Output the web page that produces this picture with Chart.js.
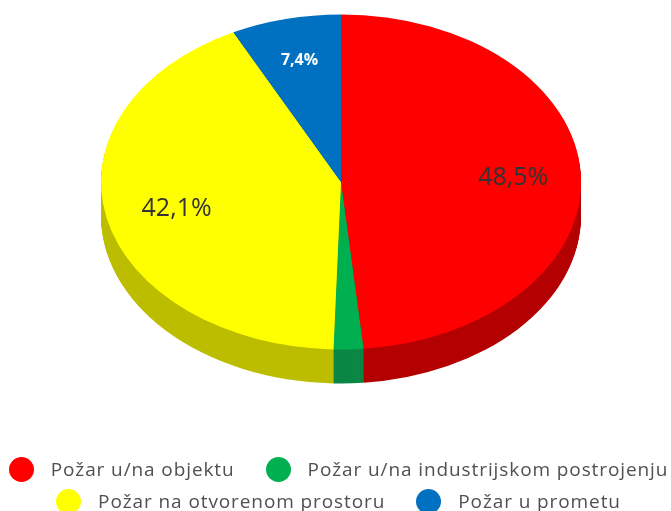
<!DOCTYPE html>
<html lang="hr">
<head>
  <meta charset="UTF-8">
  <title>Požari</title>
  <script src="https://cdn.jsdelivr.net/npm/chart.js@4"></script>
  <style>
    body { margin: 0; background: #fff; }
    #wrap { position: relative; width: 671px; height: 511px; overflow: hidden; }
    #legend { position: absolute; left: 3px; top: 457px; width: 671px; display: flex; flex-wrap: wrap; justify-content: center;
      font: 19px "Open Sans", sans-serif; letter-spacing: 0.9px; color: #505050; row-gap: 7px; }
    .item { display: flex; align-items: center; height: 25px; white-space: nowrap; }
    .item:nth-child(odd) { margin-right: 31px; }
    .item span:last-child { position: relative; top: -1px; }
    .dot { width: 25px; height: 25px; border-radius: 50%; margin-right: 17px; }
  </style>
</head>
<body>
<div id="wrap">
  <canvas id="pieChart"></canvas>
  <div id="legend"></div>
</div>

<script>
  const categories = ['Požar u/na objektu', 'Požar u/na industrijskom postrojenju', 'Požar na otvorenom prostoru', 'Požar u prometu'];
  const values = [48.5, 2.0, 42.1, 7.4];
  const valueLabels = ['48,5%', '', '42,1%', '7,4%'];
  const colors = ['#ff0000', '#00b050', '#ffff00', '#0070c0'];
  const sideColors = ['#b40000', '#0a8744', '#bdbd00', '#00508c'];

  const tilt = 167.5 / 240;  // top face is a squashed circle
  const depth = 34;

  // squash the pie and draw the side wall under it
  const tiltPlugin = {
    id: 'tilt',
    beforeDatasetsDraw(chart) {
      const ctx = chart.ctx;
      const arcs = chart.getDatasetMeta(0).data;
      const cy = arcs[0].y;
      for (let d = depth; d > 0; d--) {
        arcs.forEach((arc, i) => {
          ctx.save();
          ctx.translate(0, cy + d);
          ctx.scale(1, tilt);
          ctx.beginPath();
          ctx.moveTo(arc.x, 0);
          ctx.arc(arc.x, 0, arc.outerRadius, arc.startAngle, arc.endAngle);
          ctx.closePath();
          ctx.fillStyle = sideColors[i];
          ctx.fill();
          ctx.restore();
        });
      }
      ctx.save();
      ctx.translate(0, cy);
      ctx.scale(1, tilt);
      ctx.translate(0, -cy);
    },
    afterDatasetsDraw(chart) {
      chart.ctx.restore();
      const ctx = chart.ctx;
      ctx.textAlign = 'center';
      ctx.textBaseline = 'middle';
      chart.getDatasetMeta(0).data.forEach((arc, i) => {
        if (!valueLabels[i]) return;
        const small = values[i] < 10;
        const mid = (arc.startAngle + arc.endAngle) / 2;
        const r = arc.outerRadius * (small ? 0.75 : 0.71);
        ctx.font = small ? 'bold 16px "Open Sans"' : '25px "Open Sans"';
        ctx.fillStyle = small ? '#ffffff' : '#333333';
        const nudge = small ? 0 : 2;
        ctx.fillText(valueLabels[i], arc.x + Math.cos(mid) * r + nudge, arc.y + Math.sin(mid) * r * tilt + 1);
      });
    }
  };

  new Chart(document.getElementById('pieChart'), {
    type: 'pie',
    data: {
      labels: categories,
      datasets: [{
        data: values,
        backgroundColor: colors,
        borderWidth: 0,
        radius: 240,
        clip: false
      }]
    },
    options: {
      responsive: true,
      maintainAspectRatio: false,
      animation: false,
      layout: { padding: { left: 11, bottom: 147 } },
      plugins: { legend: { display: false }, tooltip: { enabled: false } }
    },
    plugins: [tiltPlugin]
  });

  const legend = document.getElementById('legend');
  categories.forEach((name, i) => {
    const item = document.createElement('div');
    item.className = 'item';
    const dot = document.createElement('span');
    dot.className = 'dot';
    dot.style.background = colors[i];
    const text = document.createElement('span');
    text.textContent = name;
    item.appendChild(dot);
    item.appendChild(text);
    legend.appendChild(item);
  });
</script>
</body>
</html>
